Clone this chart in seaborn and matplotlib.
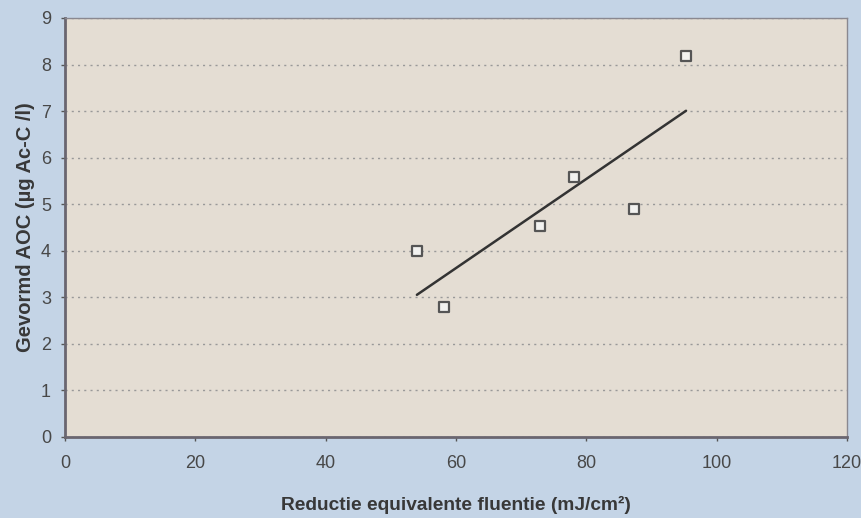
import pandas as pd
import matplotlib
matplotlib.use('Agg')
import matplotlib.pyplot as plt
import seaborn as sns

# Waarden
fluentie = [54.0, 58.2, 72.9, 78.1, 87.3, 95.3]
aoc = [4.00, 2.79, 4.53, 5.58, 4.90, 8.18]

data = pd.DataFrame({'fluentie': fluentie, 'aoc': aoc})

sns.set_style('white')
plt.rcParams['font.family'] = ['Liberation Sans', 'DejaVu Sans']

fig = plt.figure(figsize=(8.62, 5.18), dpi=100, facecolor='#c4d4e6')
ax = fig.add_axes([0.0754, 0.1564, 0.9072, 0.8089])
ax.set_facecolor('#e4ddd3')

# Trendlijn (kleinste kwadraten) over het databereik
sns.regplot(x='fluentie', y='aoc', data=data, scatter=False, ci=None, truncate=True,
            color='#333333', line_kws={'linewidth': 1.8}, ax=ax)
sns.scatterplot(x='fluentie', y='aoc', data=data, marker='s', s=55,
                facecolor='#f2f2f0', edgecolor='#555555', linewidth=1.6, ax=ax, zorder=5)

ax.set_xlim(0, 120)
ax.set_ylim(0, 9)
ax.set_xticks(range(0, 121, 20))
ax.set_yticks(range(0, 10))
ax.grid(axis='y', linestyle=(0, (1.5, 3)), color='#999999', linewidth=1)
ax.set_axisbelow(True)

for side in ['left', 'bottom']:
    ax.spines[side].set_color('#6a6670')
    ax.spines[side].set_linewidth(2)
for side in ['top', 'right']:
    ax.spines[side].set_color('#8a8890')
    ax.spines[side].set_linewidth(1)

ax.tick_params(axis='both', colors='#555555', labelcolor='#484848', labelsize=13,
               length=3, width=1, direction='out', bottom=True, left=True)
ax.tick_params(axis='x', pad=10)
ax.tick_params(axis='y', pad=7)

ax.set_xlabel('Reductie equivalente fluentie (mJ/cm²)', fontsize=13.8, fontweight='bold',
              color='#383838', labelpad=17)
ax.set_ylabel('Gevormd AOC (µg Ac-C /l)', fontsize=14.5, fontweight='bold',
              color='#383838', labelpad=4)

fig.savefig('out.png', dpi=100, facecolor=fig.get_facecolor())
